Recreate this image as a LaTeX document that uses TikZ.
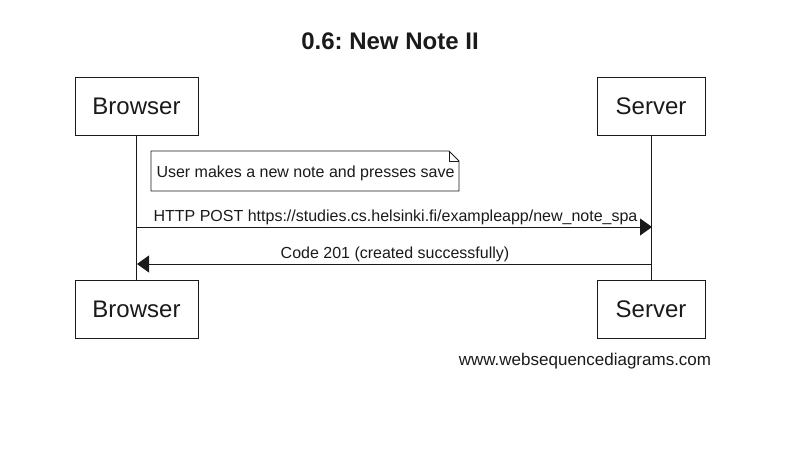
\documentclass[tikz,border=0pt]{standalone}
\usepackage{fontspec}
\setmainfont{Liberation Sans}
\frenchspacing
\usetikzlibrary{arrows.meta}
\definecolor{ink}{HTML}{1A1A1A}
\begin{document}
\begin{tikzpicture}[x=1pt,y=-1pt, every node/.style={text=ink},
  actor/.style={draw=ink, line width=0.9pt, minimum width=#1, minimum height=58pt, inner sep=0pt, font=\fontsize{24}{28}\selectfont},
  lifeline/.style={draw=ink, line width=0.9pt},
  msg/.style={draw=ink, line width=0.9pt, -{Triangle[length=12pt,width=17pt]}},
  lbl/.style={font=\fontsize{16}{19}\selectfont, inner sep=0pt}]
\useasboundingbox (0,0) rectangle (796,469);
\node[font=\bfseries\fontsize{24}{28}\selectfont] (title) at (390,41) {0.6: New Note II};
\node[actor=123pt] (bt) at (136.5,106.5) {Browser};
\node[actor=108pt] (st) at (651,106.5) {Server};
\node[actor=123pt] (bb) at (136.5,309) {Browser};
\node[actor=108pt] (sb) at (651,309) {Server};
\draw[lifeline] (bt.south) -- (bb.north);
\draw[lifeline] (st.south) -- (sb.north);
% note
\draw[draw=ink, line width=0.9pt] (151,151) -- (449,151) -- (459,161) -- (459,191) -- (151,191) -- cycle;
\draw[draw=ink, line width=0.9pt] (449,151) -- (449,161) -- (459,161);
\node[lbl] (note) at (305.5,173) {User makes a new note and presses save};
% messages
\coordinate (b1) at (137,227);
\coordinate (s1) at (652,227);
\coordinate (s2) at (652,264);
\coordinate (b2) at (137,264);
\draw[msg] (b1) -- (s1);
\draw[msg] (s2) -- (b2);
\node[lbl] (m1) at (395.5,217) {HTTP POST https://studies.cs.helsinki.fi/exampleapp/new\_note\_spa};
\node[lbl] (m2) at (395,254) {Code 201 (created successfully)};
\node[lbl, font=\fontsize{17}{20}\selectfont] (foot) at (585,361) {www.websequencediagrams.com};
\end{tikzpicture}
\end{document}
